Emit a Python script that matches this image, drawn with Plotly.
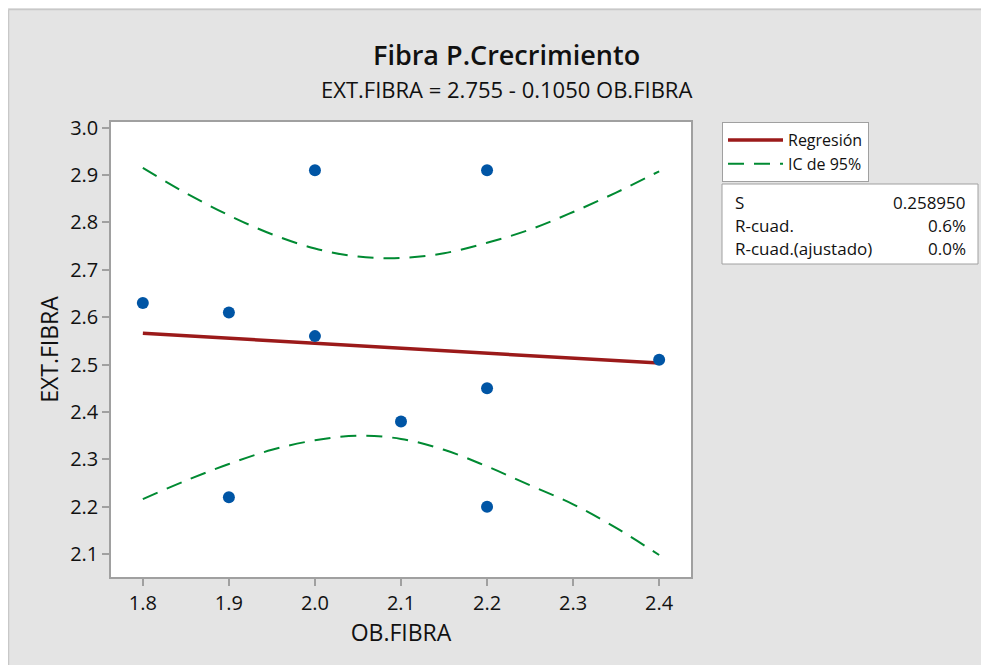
import plotly.graph_objects as go

# ---- data ----
ob_fibra = [1.8, 1.9, 1.9, 2.0, 2.0, 2.1, 2.2, 2.2, 2.2, 2.4]
ext_fibra = [2.63, 2.61, 2.22, 2.91, 2.56, 2.38, 2.91, 2.45, 2.20, 2.51]

fit_x = [1.8, 2.4]
fit_y = [2.566, 2.503]

ci_x = [1.8, 1.85, 1.9, 1.95, 2.0, 2.05, 2.1, 2.15, 2.2, 2.25, 2.3, 2.35, 2.4]
ci_upper = [2.915, 2.862, 2.815, 2.775, 2.745, 2.728, 2.725, 2.735, 2.757, 2.785, 2.822, 2.863, 2.908]
ci_lower = [2.216, 2.255, 2.290, 2.320, 2.340, 2.350, 2.343, 2.320, 2.285, 2.245, 2.205, 2.155, 2.098]

x_ticks = [1.8, 1.9, 2.0, 2.1, 2.2, 2.3, 2.4]
y_ticks = [2.1, 2.2, 2.3, 2.4, 2.5, 2.6, 2.7, 2.8, 2.9, 3.0]

stats_labels = ["S", "R-cuad.", "R-cuad.(ajustado)"]
stats_values = ["0.258950", "0.6%", "0.0%"]

title_text = "Fibra P.Crecrimiento"
subtitle_text = "EXT.FIBRA = 2.755 - 0.1050 OB.FIBRA"

FONT = "Open Sans, Noto Sans, DejaVu Sans, sans-serif"
GREEN = "#008a32"
RED = "#9b1a1a"
BLUE = "#0055a5"
FRAME = "#a0a0a0"
BG = "#e4e4e4"
TXT = "#111111"

# page is offset by the default 8px body margin
OFF = 8
W, H = 989 - OFF, 665 - OFF
# plot area in page pixels: x 111..691, y 122..577
PX0, PX1, PY0, PY1 = 111, 691, 122, 577
L, R = PX0 - OFF, W - (PX1 - OFF)
T, B = PY0 - OFF, H - (PY1 - OFF)
PW, PH = PX1 - PX0, PY1 - PY0


def px(xp):
    return (xp - PX0) / PW


def py(yp):
    return (PY1 - yp) / PH


fig = go.Figure()

fig.add_trace(go.Scatter(
    x=fit_x, y=fit_y, mode="lines", name="Regresión",
    line=dict(color=RED, width=3.5)))
fig.add_trace(go.Scatter(
    x=ci_x, y=ci_upper, mode="lines", name="IC de 95%", legendgroup="ic",
    line=dict(color=GREEN, width=2, dash="16px,10px", shape="spline")))
fig.add_trace(go.Scatter(
    x=ci_x, y=ci_lower, mode="lines", name="IC de 95%", legendgroup="ic",
    showlegend=False,
    line=dict(color=GREEN, width=2, dash="16px,10px", shape="spline")))
fig.add_trace(go.Scatter(
    x=ob_fibra, y=ext_fibra, mode="markers", name="Datos", showlegend=False,
    marker=dict(color=BLUE, size=12)))

shapes = [
    # thin border line at top/left of the gray panel
    dict(type="line", xref="paper", yref="paper", x0=px(OFF + 0.5), x1=px(989), y0=py(OFF + 1.5), y1=py(OFF + 1.5),
         line=dict(color="#c8c8c8", width=1.5), layer="below"),
    dict(type="line", xref="paper", yref="paper", x0=px(OFF + 0.5), x1=px(OFF + 0.5), y0=py(OFF + 1.5), y1=py(665),
         line=dict(color="#c8c8c8", width=1.5), layer="below"),
    # stats box
    dict(type="rect", xref="paper", yref="paper", x0=px(722), x1=px(978), y0=py(264), y1=py(184),
         fillcolor="white", line=dict(color=FRAME, width=1)),
]

annotations = [
    dict(text=title_text, xref="paper", yref="paper", x=px(506), y=py(54),
         showarrow=False, xanchor="center", yanchor="middle",
         font=dict(family=FONT, size=27, color=TXT, weight=600)),
    dict(text=subtitle_text, xref="paper", yref="paper", x=px(506), y=py(89),
         showarrow=False, xanchor="center", yanchor="middle",
         font=dict(family=FONT, size=22, color=TXT)),
]
row_y = [202, 225, 248]
for lab, val, yy in zip(stats_labels, stats_values, row_y):
    annotations.append(dict(text=lab, xref="paper", yref="paper", x=px(733), y=py(yy),
                            showarrow=False, xanchor="left", yanchor="middle",
                            font=dict(family=FONT, size=17, color=TXT)))
    annotations.append(dict(text=val, xref="paper", yref="paper", x=px(968), y=py(yy),
                            showarrow=False, xanchor="right", yanchor="middle",
                            font=dict(family=FONT, size=17, color=TXT)))

axis_common = dict(
    showgrid=False, zeroline=False, showline=True, mirror=True,
    linecolor=FRAME, linewidth=1.5, ticks="outside", ticklen=7,
    tickcolor=FRAME, tickwidth=1.5,
    tickfont=dict(family=FONT, size=20, color=TXT),
)

fig.update_layout(
    width=W, height=H,
    margin=dict(l=L, r=R, t=T, b=B, autoexpand=False),
    paper_bgcolor=BG, plot_bgcolor="white",
    font=dict(family=FONT, color=TXT),
    showlegend=True,
    legend=dict(x=px(722), y=1.0, xanchor="left", yanchor="top",
                bgcolor="white", bordercolor=FRAME, borderwidth=1,
                font=dict(family=FONT, size=16, color=TXT),
                tracegroupgap=0, itemwidth=55),
    xaxis=dict(range=[1.763, 2.437], tickvals=x_ticks, tickformat=".1f",
               title=dict(text="OB.FIBRA", standoff=5,
                          font=dict(family=FONT, size=23, color=TXT)),
               automargin=False, **axis_common),
    yaxis=dict(range=[2.0515, 3.012], tickvals=y_ticks, tickformat=".1f",
               title=dict(text="EXT.FIBRA", standoff=5,
                          font=dict(family=FONT, size=23, color=TXT)),
               automargin=False, **axis_common),
    shapes=shapes,
    annotations=annotations,
)

fig.write_html("out.html")
